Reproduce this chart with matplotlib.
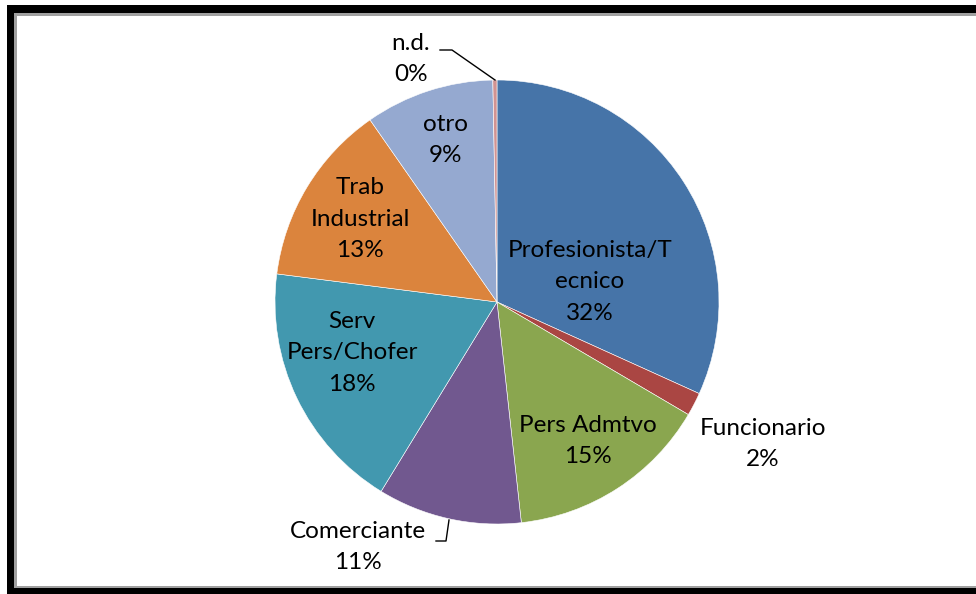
import matplotlib
matplotlib.use('Agg')
import matplotlib.pyplot as plt
from matplotlib.patches import Rectangle

plt.rcParams['font.family'] = ['Lato', 'DejaVu Sans']

categories = ['Profesionista/T\necnico', 'Funcionario', 'Pers Admtvo', 'Comerciante',
              'Serv\nPers/Chofer', 'Trab\nIndustrial', 'otro', 'n.d.']
values = [31.8, 1.7, 14.8, 10.5, 18.3, 13.3, 9.4, 0.3]
pct_labels = ['32%', '2%', '15%', '11%', '18%', '13%', '9%', '0%']
colors = ['#4674A8', '#AA4643', '#8AA64F', '#71588F', '#4298AF', '#DB843D', '#95A9D0', '#D19392']

# label centres in pixel coords (x, y from top)
label_pos = [(590, 282), (763, 444), (588, 441), (358, 547),
             (352, 353), (360, 219), (446, 140), (411, 59)]

W, H = 976, 594
fig = plt.figure(figsize=(W / 100, H / 100), dpi=100)
fig.patch.set_facecolor('white')
ax = fig.add_axes([0, 0, 1, 1])

cx, cy, r = 497, H - 302, 222
ax.pie(values, colors=colors, startangle=90, counterclock=False,
       center=(cx, cy), radius=r, frame=True,
       wedgeprops=dict(edgecolor='white', linewidth=0.4))
ax.set_xlim(0, W)
ax.set_ylim(0, H)
ax.set_aspect('equal')
ax.axis('off')

for cat, pct, (x, y) in zip(categories, pct_labels, label_pos):
    ax.text(x, H - y, cat + '\n' + pct, ha='center', va='center',
            fontsize=17.5, linespacing=1.62, color='black')

# leader lines
ax.plot([440, 452, 495], [H - 50, H - 50, H - 80], color='black', lw=1)
ax.plot([436, 446, 449], [H - 541, H - 541, H - 520], color='black', lw=1)

# chart frame
ax.add_patch(Rectangle((7, H - 13), W, 8, color='black', lw=0))
ax.add_patch(Rectangle((7, 0), 7, H - 5, color='black', lw=0))
ax.add_patch(Rectangle((7, 0), W, 6, color='black', lw=0))
ax.add_patch(Rectangle((14, H - 16), W, 3, color='#a0a0a0', lw=0))
ax.add_patch(Rectangle((14, 6), 3, H - 19, color='#a0a0a0', lw=0))
ax.add_patch(Rectangle((14, 6), W, 2, color='#a0a0a0', lw=0))

fig.savefig('out.png', dpi=100)
